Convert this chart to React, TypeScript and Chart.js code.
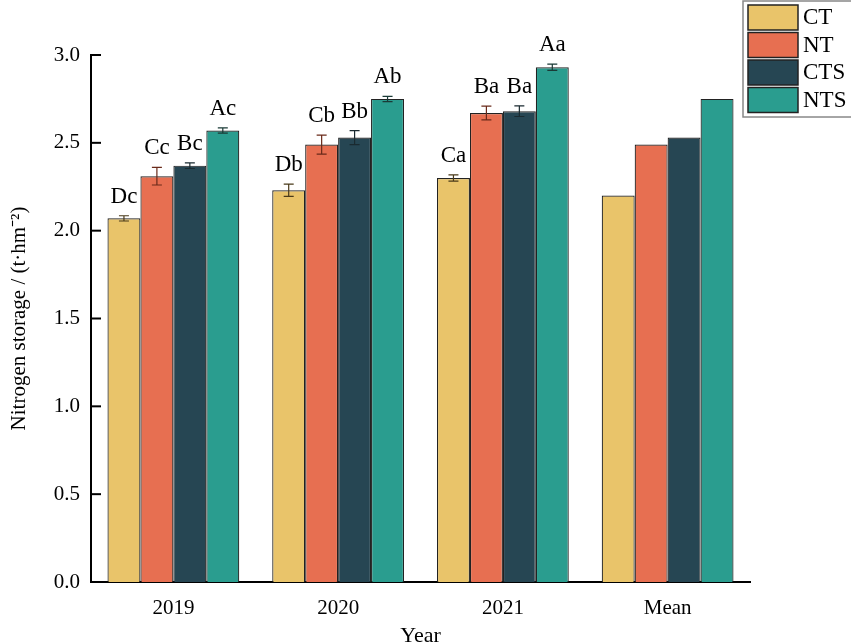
// @ts-nocheck
import {useEffect, useRef} from "react";
import {Chart, registerables} from 'chart.js';

Chart.register(...registerables);

const years = ['2019', '2020', '2021', 'Mean'];
const treatments = ['CT', 'NT', 'CTS', 'NTS'];
const colors = ['#E9C46A', '#E76F51', '#264653', '#2A9D8F'];
const errColors = ['#4a3a1a', '#6a2a1a', '#1a2a30', '#1a3a36'];

const ctValues = [2.07, 2.23, 2.30, 2.20];
const ntValues = [2.31, 2.49, 2.67, 2.49];
const ctsValues = [2.37, 2.53, 2.68, 2.53];
const ntsValues = [2.57, 2.75, 2.93, 2.75];

const ctErr = [0.015, 0.035, 0.018, null];
const ntErr = [0.05, 0.054, 0.039, null];
const ctsErr = [0.016, 0.04, 0.03, null];
const ntsErr = [0.015, 0.015, 0.018, null];

const ctLetters = ['Dc', 'Db', 'Ca', ''];
const ntLetters = ['Cc', 'Cb', 'Ba', ''];
const ctsLetters = ['Bc', 'Bb', 'Ba', ''];
const ntsLetters = ['Ac', 'Ab', 'Aa', ''];

const seriesValues = [ctValues, ntValues, ctsValues, ntsValues];
const seriesErr = [ctErr, ntErr, ctsErr, ntsErr];
const seriesLetters = [ctLetters, ntLetters, ctsLetters, ntsLetters];

const FONT = "'Liberation Serif', 'Times New Roman', serif";

// error bars, significance letters, inward y ticks and the boxed legend
const decorPlugin = {
    id: 'decor',
    afterDatasetsDraw(chart) {
        const ctx = chart.ctx;
        const yScale = chart.scales.y;
        ctx.save();
        chart.data.datasets.forEach((ds, i) => {
            const meta = chart.getDatasetMeta(i);
            meta.data.forEach((bar, j) => {
                const v = ds.data[j];
                const e = seriesErr[i][j];
                let top = yScale.getPixelForValue(v);
                if (e) {
                    const y1 = yScale.getPixelForValue(v + e);
                    const y2 = yScale.getPixelForValue(v - e);
                    ctx.strokeStyle = errColors[i];
                    ctx.lineWidth = 1.2;
                    ctx.beginPath();
                    ctx.moveTo(bar.x, y1);
                    ctx.lineTo(bar.x, y2);
                    ctx.moveTo(bar.x - 5, y1);
                    ctx.lineTo(bar.x + 5, y1);
                    ctx.moveTo(bar.x - 5, y2);
                    ctx.lineTo(bar.x + 5, y2);
                    ctx.stroke();
                    top = y1;
                }
                const txt = seriesLetters[i][j];
                if (txt) {
                    ctx.fillStyle = '#000';
                    ctx.font = '23px ' + FONT;
                    ctx.textAlign = 'center';
                    ctx.textBaseline = 'alphabetic';
                    ctx.fillText(txt, bar.x, top - 13);
                }
            });
        });
        // inward y ticks
        ctx.strokeStyle = '#000';
        ctx.lineWidth = 2;
        const left = chart.chartArea.left;
        yScale.ticks.forEach((t) => {
            const y = yScale.getPixelForValue(t.value);
            ctx.beginPath();
            ctx.moveTo(left, y);
            ctx.lineTo(left + 10, y);
            ctx.stroke();
        });
        // legend
        const lx = 743, ly = 1, lw = 110, lh = 116;
        ctx.fillStyle = '#fff';
        ctx.fillRect(lx, ly, lw, lh);
        ctx.strokeStyle = '#888';
        ctx.lineWidth = 1.5;
        ctx.strokeRect(lx, ly, lw, lh);
        chart.data.datasets.forEach((ds, i) => {
            const sy = 5 + i * 27.5;
            ctx.fillStyle = ds.backgroundColor;
            ctx.fillRect(748, sy, 50, 25);
            ctx.strokeStyle = '#222';
            ctx.lineWidth = 1.5;
            ctx.strokeRect(748, sy, 50, 25);
            ctx.fillStyle = '#000';
            ctx.font = '23px ' + FONT;
            ctx.textAlign = 'left';
            ctx.textBaseline = 'middle';
            ctx.fillText(ds.label, 803, sy + 13);
        });
        ctx.restore();
    },
};

export default function App() {
    const chartRef = useRef(null);
    const chartInstance = useRef(null);
    useEffect(() => {
        document.body.style.margin = '0';
        const ctx = chartRef.current?.getContext('2d');
        chartInstance.current = new Chart(ctx, {
            type: 'bar',
            data: {
                labels: years,
                datasets: treatments.map((t, i) => ({
                    label: t,
                    data: seriesValues[i],
                    backgroundColor: colors[i],
                    borderColor: '#222',
                    borderWidth: 1.2,
                    categoryPercentage: 0.8,
                    barPercentage: 1.0,
                })),
            },
            options: {
                animation: false,
                responsive: false,
                devicePixelRatio: 1,
                layout: {padding: {top: 55, right: 101, left: 0, bottom: 0}},
                plugins: {
                    legend: {display: false},
                    tooltip: {enabled: false},
                },
                scales: {
                    x: {
                        grid: {display: false, drawTicks: false},
                        border: {display: true, color: '#000', width: 2},
                        ticks: {color: '#000', font: {family: FONT, size: 21}, padding: 14},
                        title: {display: true, text: 'Year', color: '#000', font: {family: FONT, size: 22}, padding: {top: 0, bottom: -5}},
                        afterFit: (scale) => { scale.height = 62; },
                    },
                    y: {
                        min: 0,
                        max: 3.0,
                        grid: {display: false, drawTicks: false},
                        border: {display: true, color: '#000', width: 2},
                        ticks: {
                            stepSize: 0.5,
                            color: '#000',
                            font: {family: FONT, size: 21},
                            padding: 11,
                            callback: (v) => Number(v).toFixed(1),
                        },
                        title: {display: true, text: 'Nitrogen storage / (t·hm⁻²)', color: '#000', font: {family: FONT, size: 21}, padding: {top: 7, bottom: 4}},
                        afterFit: (scale) => { scale.width = 91; },
                    },
                },
            },
            plugins: [decorPlugin],
        });

        return () => {
            chartInstance.current.destroy();
        };
    }, []);

    return <canvas ref={chartRef} width={851} height={644} style={{display: 'block'}}/>;
}
